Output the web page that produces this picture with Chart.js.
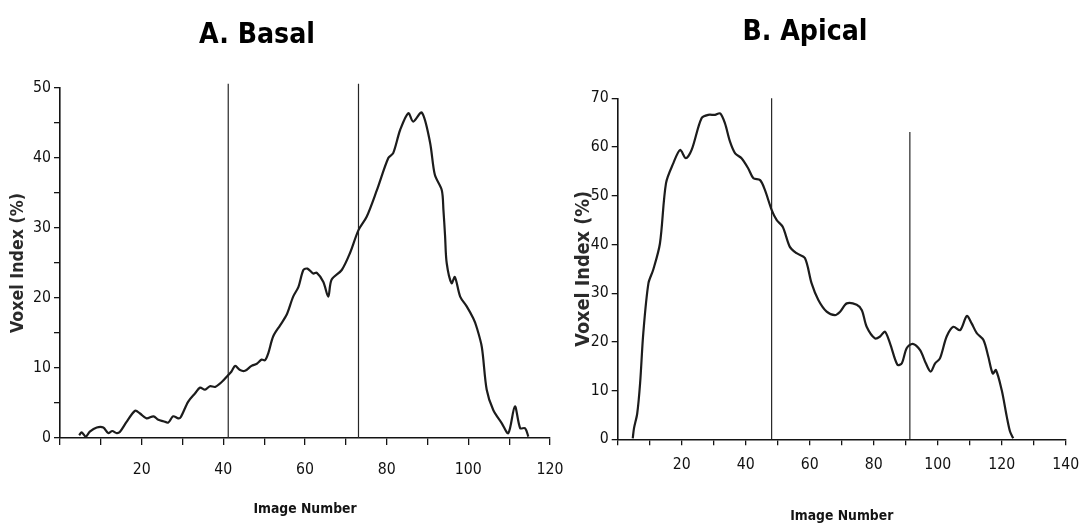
<!DOCTYPE html>
<html><head><meta charset="utf-8">
<script src="https://cdn.jsdelivr.net/npm/chart.js@4.4.1/dist/chart.umd.min.js"></script>
<style>
html,body{margin:0;padding:0;background:#fff;width:1080px;height:526px;overflow:hidden}
canvas{position:absolute;top:0}
#c1{left:0}
#c2{left:560px}
</style></head>
<body>
<canvas id="c1" width="565" height="526"></canvas>
<canvas id="c2" width="520" height="526"></canvas>
<script>
// ---- Data ----
const basalImage = [4.7,5.3,6.3,7.3,9.0,10.6,11.8,12.8,13.9,14.7,16.3,18.4,19.6,21.2,22.9,24.1,25.3,26.5,27.7,29.0,29.6,31.4,33.1,34.3,35.5,36.7,38.0,39.6,41.2,42.0,42.9,44.1,45.3,46.9,48.2,49.4,50.2,51.0,52.2,53.9,55.5,57.1,58.4,59.6,60.6,62.0,62.9,64.5,65.7,66.5,69.0,71.0,73.1,75.1,77.6,80.4,81.6,83.3,85.3,86.5,88.6,90.6,91.8,93.5,93.9,94.3,94.7,95.9,96.7,98.0,99.6,101.2,102.0,103.3,104.5,106.1,108.2,109.8,111.4,112.7,113.9,114.7];
const basalVoxel = [0.4,0.8,0.2,0.9,1.5,1.5,0.7,1.0,0.7,0.9,2.3,3.9,3.5,2.8,3.1,2.6,2.4,2.2,3.1,2.8,3.0,5.2,6.4,7.2,6.9,7.4,7.3,8.0,9.0,9.5,10.3,9.7,9.6,10.3,10.6,11.2,11.1,12.1,14.5,16.1,17.6,20.2,21.6,24.0,24.2,23.5,23.6,22.3,20.2,22.6,24.0,26.4,29.7,31.6,35.4,40.0,40.7,44.0,46.4,45.2,46.5,42.3,37.6,35.4,32.6,28.9,25.0,22.1,23.0,20.2,18.8,17.1,15.9,13.0,6.9,4.0,2.1,0.7,4.5,1.4,1.4,0.2];
const basalMarkers = [41.2, 73.1];
const basalMarkerTops = [50.6, 50.6];

const apicalImage = [4.7,5.1,6.1,7.0,8.0,9.6,11.1,13.2,15.1,17.4,19.5,21.3,23.1,26.2,28.3,30.4,32.0,33.5,35.1,36.7,38.7,40.8,42.4,44.5,46.0,48.1,49.7,51.6,53.8,55.9,58.5,60.6,62.7,65.3,67.9,69.5,71.6,74.7,76.3,77.8,80.4,82.0,83.5,85.1,87.4,88.8,90.3,92.2,94.5,96.3,97.8,99.2,100.7,102.8,104.9,107.0,109.1,110.6,112.2,114.3,115.8,117.2,118.2,120.0,121.6,122.6,123.6];
const apicalVoxel = [0.2,2.3,5.3,11.5,21.8,32.0,34.8,40.2,52.6,56.7,59.4,57.7,59.4,65.9,66.6,66.6,66.9,64.9,61.1,58.7,57.7,55.6,53.6,53.2,51.2,47.1,45.0,43.6,39.5,38.2,37.2,32.0,28.6,26.2,25.5,26.2,27.9,27.6,26.5,23.1,20.7,21.1,22.1,19.7,15.3,15.6,18.7,19.6,18.3,15.6,13.9,15.6,16.6,21.1,23.1,22.4,25.3,23.8,21.8,20.4,17.0,13.5,14.2,10.1,4.6,1.6,0.2];
const apicalMarkers = [48.1, 91.3];
const apicalMarkerTops = [70, 63.1];

const basalXTickLabels = [20,40,60,80,100,120];
const basalYTickLabels = [0,10,20,30,40,50];
const apicalXTickLabels = [20,40,60,80,100,120,140];
const apicalYTickLabels = [0,10,20,30,40,50,60,70];

const titles = ['A. Basal', 'B. Apical'];
const xTitle = 'Image Number';
const yTitle = 'Voxel Index (%)';

// ---- Font selection (prefer a narrow face, as in the reference) ----
const mctx = document.createElement('canvas').getContext('2d');
function hasFont(name) {
  const s = 'mmmmmmmmmmlli1WQ0123456789';
  for (const base of ['monospace', 'serif']) {
    mctx.font = '40px ' + base; const w0 = mctx.measureText(s).width;
    mctx.font = '40px "' + name + '", ' + base; const w1 = mctx.measureText(s).width;
    if (w0 !== w1) return true;
  }
  return false;
}
const narrowName = ['Liberation Sans Narrow', 'Arial Narrow', 'DejaVu Sans Condensed', 'Roboto Condensed', 'Open Sans Condensed'].find(hasFont);
const FAM = narrowName ? '"' + narrowName + '", "Liberation Sans", sans-serif' : '"Liberation Sans", Arial, sans-serif';
function fit(text, weight, target) {
  mctx.font = weight + ' 100px ' + FAM;
  return Math.round(1000 * target / mctx.measureText(text).width) / 10;
}
const TITLE_SIZE = fit('A. Basal', 'bold', 116);
const TICK_SIZE = fit('100', 'normal', 27);
const XTITLE_SIZE = fit(xTitle, 'bold', 103);
const YTITLE_L = fit(yTitle, 'bold', 140);
const YTITLE_R = fit(yTitle, 'bold', 156);

const INK = '#141414';

const panelTitle = {
  id: 'panelTitle',
  afterDraw(chart, args, o) {
    const ctx = chart.ctx;
    ctx.save();
    ctx.font = 'bold ' + TITLE_SIZE + 'px ' + FAM;
    ctx.fillStyle = '#000';
    ctx.textAlign = 'center';
    ctx.textBaseline = 'alphabetic';
    ctx.fillText(o.text, o.x, o.y);
    ctx.restore();
  }
};

function pts(xs, ys) { return xs.map((x, i) => ({x, y: ys[i]})); }

function build(canvasId, cfg) {
  const datasets = [{
    data: pts(cfg.xs, cfg.ys),
    borderColor: '#1c1c1c', borderWidth: 2.2, pointRadius: 0, tension: 0.3, fill: false
  }];
  cfg.markers.forEach((m, i) => datasets.push({
    data: [{x: m, y: 0}, {x: m, y: cfg.markerTops[i]}],
    borderColor: '#262626', borderWidth: 1.2, pointRadius: 0, clip: false
  }));
  return new Chart(document.getElementById(canvasId), {
    type: 'line',
    data: {datasets},
    plugins: [panelTitle],
    options: {
      responsive: false, animation: false, devicePixelRatio: 1,
      layout: {padding: cfg.padding},
      plugins: {
        legend: {display: false}, tooltip: {enabled: false},
        panelTitle: cfg.title
      },
      scales: {
        x: {
          type: 'linear', min: 0, max: cfg.xMax,
          afterFit: s => { s.height = cfg.xHeight; s.paddingLeft = 0; s.paddingRight = 0; },
          border: {display: true, color: INK, width: 1.6},
          grid: {drawOnChartArea: false, drawTicks: true, tickLength: cfg.xTickLen, color: INK, lineWidth: 1.3},
          ticks: {
            stepSize: 10, autoSkip: false, maxRotation: 0, padding: cfg.xTickPad,
            color: '#111', font: {family: FAM, size: TICK_SIZE},
            callback: v => cfg.xLabels.includes(v) ? String(v) : ''
          },
          title: {display: true, text: xTitle, color: INK,
            font: {family: FAM, size: XTITLE_SIZE, weight: 'bold'}, padding: {top: 0, bottom: cfg.xTitlePad}}
        },
        y: {
          type: 'linear', min: 0, max: cfg.yMax,
          afterFit: s => { s.width = cfg.yWidth; },
          border: {display: true, color: INK, width: 1.6},
          grid: {drawOnChartArea: false, drawTicks: true, tickLength: 6, color: INK, lineWidth: 1.3},
          ticks: {
            stepSize: cfg.yStep, autoSkip: false, padding: 3,
            color: '#111', font: {family: FAM, size: TICK_SIZE},
            callback: v => cfg.yLabels.includes(v) ? String(v) : ''
          },
          title: {display: true, text: yTitle, color: '#2a2a2a',
            font: {family: FAM, size: cfg.yTitleSize, weight: 'bold'},
            padding: {top: cfg.yTitlePad, bottom: 0}}
        }
      }
    }
  });
}

build('c1', {
  xs: basalImage, ys: basalVoxel, markers: basalMarkers, markerTops: basalMarkerTops,
  xMax: 120, yMax: 50, yStep: 5, xLabels: basalXTickLabels, yLabels: basalYTickLabels,
  padding: {left: 0, right: 15, top: 88, bottom: 0},
  xHeight: 88, yWidth: 60, xTickLen: 7, xTickPad: 16, xTitlePad: 8, yTitleSize: YTITLE_L, yTitlePad: 8,
  title: {text: titles[0], x: 257, y: 43}
});

build('c2', {
  xs: apicalImage, ys: apicalVoxel, markers: apicalMarkers, markerTops: apicalMarkerTops,
  xMax: 140, yMax: 70, yStep: 10, xLabels: apicalXTickLabels, yLabels: apicalYTickLabels,
  padding: {left: 0, right: 14.3, top: 98.3, bottom: 0},
  xHeight: 86.7, yWidth: 57.7, xTickLen: 6, xTickPad: 10, xTitlePad: 1, yTitleSize: YTITLE_R, yTitlePad: 12,
  title: {text: titles[1], x: 805 - 560, y: 40}
});
</script>
</body></html>
